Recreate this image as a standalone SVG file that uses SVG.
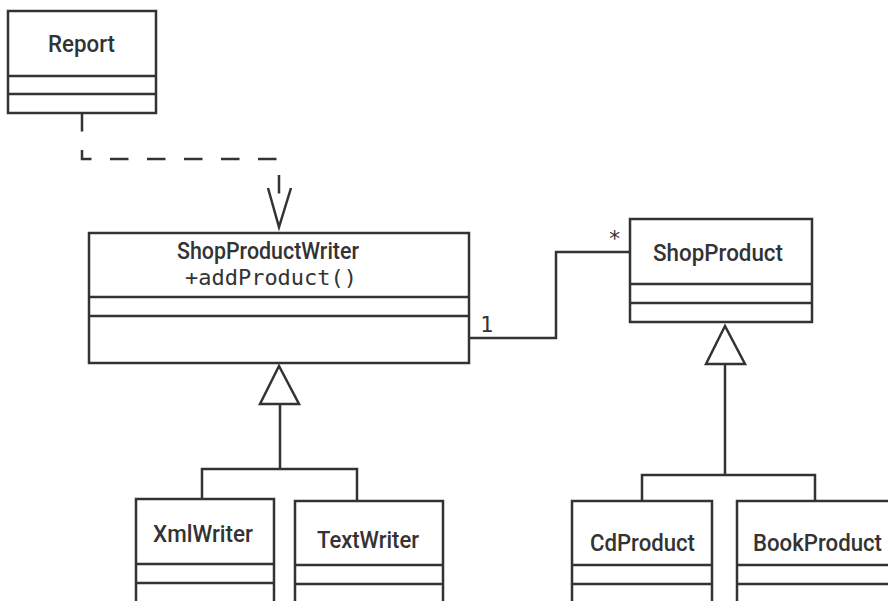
<svg xmlns="http://www.w3.org/2000/svg" width="888" height="601" viewBox="0 0 888 601">
  <style>
    .box { fill: #ffffff; stroke: #333333; stroke-width: 2.5; }
    .div { stroke: #333333; stroke-width: 2.5; fill: none; }
    .line { stroke: #333333; stroke-width: 2.5; fill: none; }
    .dash { stroke: #333333; stroke-width: 2.5; fill: none; stroke-dasharray: 18.5 18.5; }
    .tri { fill: #ffffff; stroke: #333333; stroke-width: 2.5; stroke-linejoin: miter; }
    .name { font-family: Roboto, "Liberation Sans", Arial, sans-serif; font-weight: 500; font-size: 24px; fill: #333333; }
    .mono { font-family: "DejaVu Sans Mono", "Liberation Mono", monospace; font-size: 22px; fill: #333333; }
  </style>

  <!-- connectors -->
  <g id="connectors">
    <!-- Report depends on ShopProductWriter -->
    <path class="dash" d="M82,113 V159 H279 V194"/>
    <path class="line" d="M268,188 L279,227 L291,188"/>
    <!-- association ShopProductWriter 1 — * ShopProduct -->
    <path class="line" d="M470,338 H556 V252 H630"/>
    <text class="mono" x="480" y="332" font-size="25">1</text>
    <text class="mono" x="608" y="246" font-size="27">*</text>
    <!-- writers inherit ShopProductWriter -->
    <path class="line" d="M280,404 V469 M202,499 V469 H357 V500"/>
    <polygon class="tri" points="279,366 260,404 299,404"/>
    <!-- products inherit ShopProduct -->
    <path class="line" d="M725,364 V475 M642,500 V475 H815 V500"/>
    <polygon class="tri" points="725,326 706,364 745,364"/>
  </g>

  <g id="Report">
    <rect class="box" x="8" y="11" width="148" height="102"/>
    <path class="div" d="M8,76 H156 M8,94 H156"/>
    <text class="name" x="48" y="52" textLength="67" lengthAdjust="spacingAndGlyphs">Report</text>
  </g>

  <g id="ShopProductWriter">
    <rect class="box" x="89" y="233" width="380" height="130"/>
    <path class="div" d="M89,297 H469 M89,316 H469"/>
    <text class="name" x="177" y="259" textLength="182" lengthAdjust="spacingAndGlyphs">ShopProductWriter</text>
    <text class="mono" x="185" y="285" textLength="172" lengthAdjust="spacingAndGlyphs">+addProduct()</text>
  </g>

  <g id="ShopProduct">
    <rect class="box" x="630" y="219" width="182" height="103"/>
    <path class="div" d="M630,284 H812 M630,303 H812"/>
    <text class="name" x="653" y="261" textLength="130" lengthAdjust="spacingAndGlyphs">ShopProduct</text>
  </g>

  <g id="XmlWriter">
    <rect class="box" x="136" y="499" width="138" height="130"/>
    <path class="div" d="M136,564 H274 M136,583 H274"/>
    <text class="name" x="153" y="542" textLength="100" lengthAdjust="spacingAndGlyphs">XmlWriter</text>
  </g>

  <g id="TextWriter">
    <rect class="box" x="295" y="501" width="148" height="130"/>
    <path class="div" d="M295,565 H443 M295,584 H443"/>
    <text class="name" x="317" y="548" textLength="102" lengthAdjust="spacingAndGlyphs">TextWriter</text>
  </g>

  <g id="CdProduct">
    <rect class="box" x="572" y="501" width="140" height="130"/>
    <path class="div" d="M572,565 H712 M572,584 H712"/>
    <text class="name" x="590" y="551" textLength="105" lengthAdjust="spacingAndGlyphs">CdProduct</text>
  </g>

  <g id="BookProduct">
    <rect class="box" x="737" y="501" width="170" height="130"/>
    <path class="div" d="M737,565 H907 M737,584 H907"/>
    <text class="name" x="753" y="551" textLength="129" lengthAdjust="spacingAndGlyphs">BookProduct</text>
  </g>
</svg>
